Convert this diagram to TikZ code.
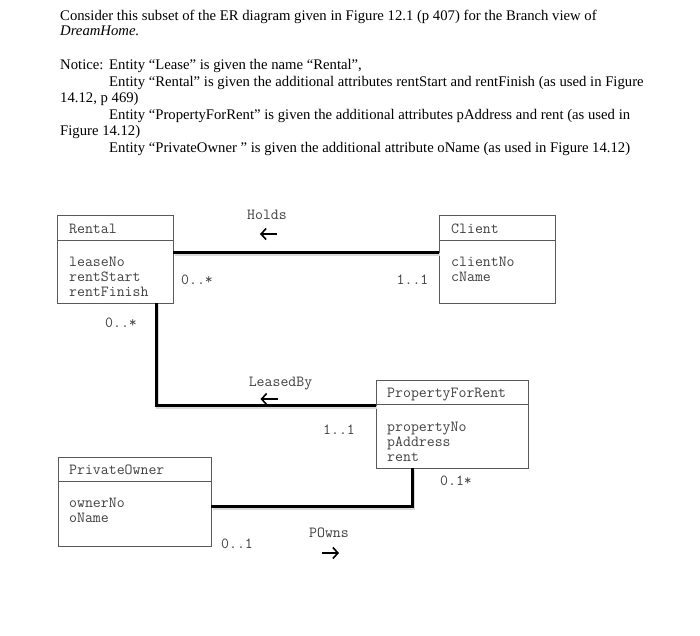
\documentclass[tikz,border=0pt]{standalone}
\usepackage{fontspec}
\setmainfont{Liberation Serif}
\usetikzlibrary{calc, positioning, arrows.meta}

\begin{document}
\begin{tikzpicture}[x=1pt,y=-1pt,
                    txt/.style={anchor=base west,inner sep=0pt,font=\fontsize{14.7}{16}\selectfont},
                    entity/.style={rectangle,draw=black!65,line width=0.9pt,inner sep=0pt},
                    divider/.style={draw=black!65,line width=0.9pt},
                    attr/.style={anchor=west,inner sep=0pt,text height=9pt,text depth=0pt,
                                 text=black!75,font=\fontsize{15.4}{15}\ttfamily},
                    mult/.style={attr,anchor=center},
                    link/.style={line width=2.6pt,
                                 preaction={draw=black!15,line width=3pt,transform canvas={shift={(1.3pt,-1.6pt)}}}},
                    dir/.style={line width=1.6pt,-{Straight Barb[length=5pt,width=11pt]}}]

  \useasboundingbox (0,0) rectangle (700,635);

  % question text
  \node[txt] (q1) at (60,20.7) {Consider this subset of the ER diagram given in Figure 12.1 (p 407) for the Branch view of};
  \node[txt] (q2) at (60,35.7) {\textit{DreamHome.}};
  \node[txt] (n0) at (60,69) {Notice:};
  \node[txt] (n1) at (109,69) {Entity “Lease” is given the name “Rental”,};
  \node[txt] (n2) at (109,86) {Entity “Rental” is given the additional attributes rentStart and rentFinish (as used in Figure};
  \node[txt] (n3) at (60,102) {14.12, p 469)};
  \node[txt] (n4) at (109,119) {Entity “PropertyForRent” is given the additional attributes pAddress and rent (as used in};
  \node[txt] (n5) at (60,135) {Figure 14.12)};
  \node[txt] (n6) at (109,152) {Entity “PrivateOwner ” is given the additional attribute oName (as used in Figure 14.12)};

  % entities
  \node[entity,minimum width=116pt,minimum height=88pt] (rental) at (115,259) {};
  \draw[divider] ($(rental.north west)+(0,26)$) -- ($(rental.north east)+(0,26)$);
  \node[attr] (rental title) at (69,229) {Rental};
  \node[attr] (leaseno) at (69,262) {leaseNo};
  \node[attr] (rentstart) at (69,277) {rentStart};
  \node[attr] (rentfinish) at (69,292) {rentFinish};

  \node[entity,minimum width=116pt,minimum height=88pt] (client) at (497,259) {};
  \draw[divider] ($(client.north west)+(0,26)$) -- ($(client.north east)+(0,26)$);
  \node[attr] (client title) at (451,229) {Client};
  \node[attr] (clientno) at (451,262) {clientNo};
  \node[attr] (cname) at (451,277) {cName};

  \node[entity,minimum width=152pt,minimum height=88pt] (pfr) at (452,424) {};
  \draw[divider] ($(pfr.north west)+(0,25)$) -- ($(pfr.north east)+(0,25)$);
  \node[attr] (pfr title) at (387,393) {PropertyForRent};
  \node[attr] (propertyno) at (387,427) {propertyNo};
  \node[attr] (paddress) at (387,442) {pAddress};
  \node[attr] (rent) at (387,457) {rent};

  \node[entity,minimum width=153pt,minimum height=89pt] (owner) at (134.5,501.5) {};
  \draw[divider] ($(owner.north west)+(0,25)$) -- ($(owner.north east)+(0,25)$);
  \node[attr] (owner title) at (69,470) {PrivateOwner};
  \node[attr] (ownerno) at (69,503) {ownerNo};
  \node[attr] (oname) at (69,518) {oName};

  % relationships
  \draw[link] ($(rental.north east)+(0,38)$) -- ($(client.north west)+(0,38)$);
  \draw[link] ($(rental.south west)+(100,0)$) |- ($(pfr.north west)+(0,26)$);
  \draw[link] ($(owner.north east)+(0,50)$) -| ($(pfr.south west)+(37,0)$);

  % relationship names
  \node[mult] (holds) at (267,215) {Holds};
  \draw[dir] ($(holds.center)+(10,19)$) -- ++(-17,0);
  \node[mult] (leasedby) at (280.5,382) {LeasedBy};
  \draw[dir] ($(leasedby.center)+(-3,17)$) -- ++(-17,0);
  \node[mult] (powns) at (329,533) {POwns};
  \draw[dir] ($(powns.center)+(-7,20)$) -- ++(17,0);

  % multiplicities
  \node[mult] (m1) at (197,280) {0..*};
  \node[mult] (m2) at (412.5,280) {1..1};
  \node[mult] (m3) at (121,323) {0..*};
  \node[mult] (m4) at (339,430) {1..1};
  \node[mult] (m5) at (456,481) {0.1*};
  \node[mult] (m6) at (237,544) {0..1};

\end{tikzpicture}
\end{document}
